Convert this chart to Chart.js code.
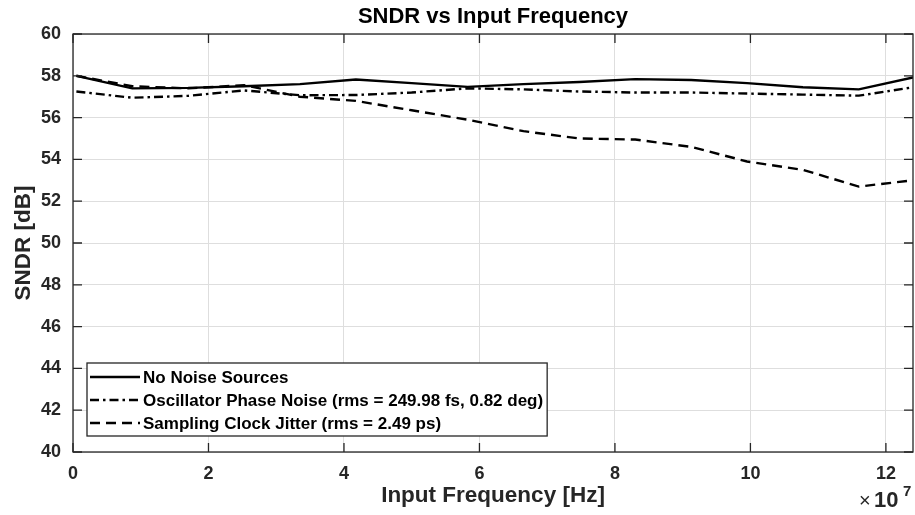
<!DOCTYPE html>
<html>
<head>
<meta charset="utf-8">
<script src="https://cdn.jsdelivr.net/npm/chart.js@4.4.0/dist/chart.umd.min.js"></script>
<style>
  body { margin: 0; background: #fff; }
  canvas { display: block; }
</style>
</head>
<body>
<canvas id="sndrChart" width="915" height="515"></canvas>
<script>
// input frequency, in units of 1e7 Hz
const freqE7 = [0.05, 0.875, 1.70, 2.525, 3.35, 4.175, 5.00, 5.825, 6.65, 7.475, 8.30, 9.125, 9.95, 10.775, 11.60, 12.40];

const noNoise    = [58.0, 57.4, 57.42, 57.5, 57.6, 57.82, 57.65, 57.47, 57.6, 57.7, 57.84, 57.8, 57.65, 57.45, 57.35, 57.92];
const phaseNoise = [57.25, 56.95, 57.04, 57.3, 57.07, 57.08, 57.2, 57.4, 57.35, 57.25, 57.2, 57.2, 57.15, 57.1, 57.05, 57.45];
const clockJitter = [58.0, 57.5, 57.4, 57.55, 57.0, 56.8, 56.35, 55.9, 55.35, 55.0, 54.95, 54.6, 53.9, 53.5, 52.7, 53.0];

const xTickVals = [0, 2, 4, 6, 8, 10, 12];
const yTickVals = [40, 42, 44, 46, 48, 50, 52, 54, 56, 58, 60];

const seriesNames = [
  'No Noise Sources',
  'Oscillator Phase Noise (rms = 249.98 fs, 0.82 deg)',
  'Sampling Clock Jitter (rms = 2.49 ps)'
];
const dashes = [[], [9, 4, 2.5, 4], [10, 6]];

const axisColor = '#262626';
const fontFam = '"Liberation Sans", Arial, Helvetica, sans-serif';

let toPoints = (ys) => ys.map((y, i) => ({x: freqE7[i], y: y}));

// draws the axes box, inward ticks, legend and x10^7 note
let matlabBits = {
  id: 'matlabBits',
  afterDraw(chart) {
    const ctx = chart.ctx;
    const a = chart.chartArea;
    const xs = chart.scales.x, ys = chart.scales.y;
    ctx.save();
    ctx.strokeStyle = axisColor;
    ctx.lineWidth = 1.3;
    ctx.setLineDash([]);
    ctx.strokeRect(a.left, a.top, a.right - a.left, a.bottom - a.top);
    ctx.beginPath();
    xs.ticks.forEach((t) => {
      const px = xs.getPixelForValue(t.value);
      ctx.moveTo(px, a.bottom); ctx.lineTo(px, a.bottom - 9);
      ctx.moveTo(px, a.top); ctx.lineTo(px, a.top + 9);
    });
    ys.ticks.forEach((t) => {
      const py = ys.getPixelForValue(t.value);
      ctx.moveTo(a.left, py); ctx.lineTo(a.left + 9, py);
      ctx.moveTo(a.right, py); ctx.lineTo(a.right - 9, py);
    });
    ctx.stroke();

    // legend
    ctx.font = 'bold 17px ' + fontFam;
    let maxW = 0;
    seriesNames.forEach((n) => { maxW = Math.max(maxW, ctx.measureText(n).width); });
    const lx = 87, ly = 363, rowH = 23;
    const lw = 143 - lx + maxW + 4, lh = 73;
    ctx.fillStyle = '#fff';
    ctx.fillRect(lx, ly, lw, lh);
    ctx.lineWidth = 1.3;
    ctx.strokeStyle = axisColor;
    ctx.strokeRect(lx, ly, lw, lh);
    seriesNames.forEach((n, i) => {
      const ry = ly + 14 + i * rowH;
      ctx.beginPath();
      ctx.lineWidth = 2.4;
      ctx.strokeStyle = '#000';
      ctx.setLineDash(dashes[i]);
      ctx.moveTo(90, ry); ctx.lineTo(140, ry);
      ctx.stroke();
      ctx.setLineDash([]);
      ctx.fillStyle = '#000';
      ctx.textBaseline = 'middle';
      ctx.textAlign = 'left';
      ctx.fillText(n, 143, ry + 1);
    });

    // exponent note
    ctx.fillStyle = axisColor;
    ctx.textBaseline = 'alphabetic';
    ctx.textAlign = 'left';
    ctx.font = '20px ' + fontFam;
    ctx.fillText('\u00d7', 859, 507);
    ctx.font = 'bold 22px ' + fontFam;
    ctx.fillText('10', 874, 507);
    ctx.font = 'bold 15px ' + fontFam;
    ctx.fillText('7', 903, 496);
    ctx.restore();
  }
};

new Chart(document.getElementById('sndrChart'), {
  type: 'line',
  data: {
    datasets: [noNoise, phaseNoise, clockJitter].map((ys, i) => ({
      label: seriesNames[i],
      data: toPoints(ys),
      borderColor: '#000',
      borderWidth: 2.4,
      borderDash: dashes[i],
      pointRadius: 0,
      tension: 0,
      fill: false
    }))
  },
  options: {
    responsive: false,
    animation: false,
    events: [],
    layout: { padding: { top: 0, right: 2, left: 0, bottom: 0 } },
    plugins: {
      legend: { display: false },
      tooltip: { enabled: false },
      title: {
        display: true,
        fullSize: false,
        text: 'SNDR vs Input Frequency',
        color: '#000',
        font: { family: fontFam, size: 22, weight: 'bold' },
        padding: { top: 4, bottom: 3.6 }
      }
    },
    scales: {
      x: {
        type: 'linear',
        min: 0,
        max: freqE7[freqE7.length - 1],
        afterBuildTicks: (s) => { s.ticks = xTickVals.map((v) => ({value: v})); },
        afterFit: (s) => { s.height = 63; s.paddingLeft = 0; s.paddingRight = 0; },
        border: { display: false },
        grid: { color: '#dedede', lineWidth: 1, drawTicks: false },
        ticks: {
          padding: 11,
          color: axisColor,
          font: { family: fontFam, size: 18, weight: 'bold' }
        },
        title: {
          display: true,
          text: 'Input Frequency [Hz]',
          color: axisColor,
          font: { family: fontFam, size: 22.5, weight: 'bold' },
          padding: { top: 0, bottom: 5.5 }
        }
      },
      y: {
        min: 40,
        max: 60,
        afterBuildTicks: (s) => { s.ticks = yTickVals.map((v) => ({value: v})); },
        afterFit: (s) => { s.width = 73; },
        border: { display: false },
        grid: { color: '#dedede', lineWidth: 1, drawTicks: false },
        ticks: {
          padding: 12,
          color: axisColor,
          font: { family: fontFam, size: 18, weight: 'bold' }
        },
        title: {
          display: true,
          text: 'SNDR [dB]',
          color: axisColor,
          font: { family: fontFam, size: 22.5, weight: 'bold' },
          padding: { top: 10, bottom: 0 }
        }
      }
    }
  },
  plugins: [matlabBits]
});
</script>
</body>
</html>
